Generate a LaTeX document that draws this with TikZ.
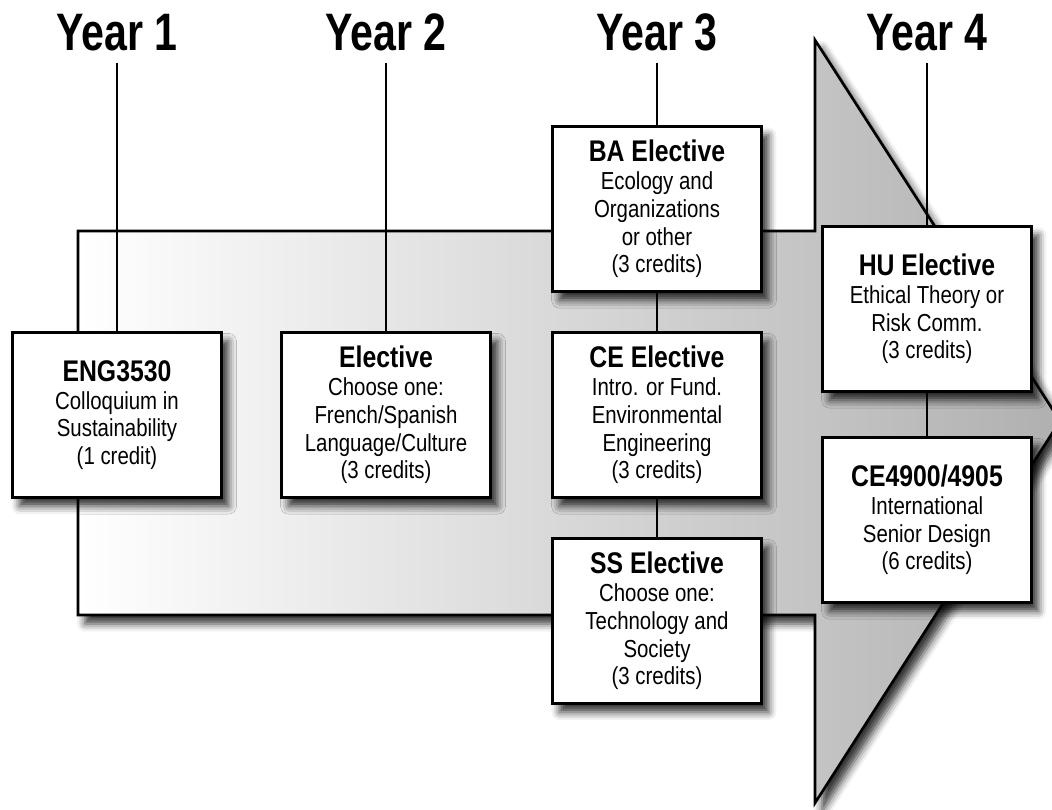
\documentclass[tikz,border=0pt]{standalone}
\usepackage{fontspec}
\setmainfont{Liberation Sans}
\newfontfamily\boxfont[FakeStretch=0.83]{Liberation Sans}
\newfontfamily\yearfont[FakeStretch=0.78]{Liberation Sans}
\usetikzlibrary{shadows.blur,backgrounds}
\tikzset
{
    coursebox/.style = {rectangle, draw=black, line width=1.5pt, fill=white, align=center, minimum width=4.18cm, minimum height=3.3cm, inner sep=0pt, font=\boxfont\fontsize{14}{15.8}\selectfont, blur shadow={shadow xshift=4pt, shadow yshift=-5pt, shadow blur radius=4.5pt, shadow opacity=80}},
    yearlabel/.style = {anchor=base, inner sep=0.24cm, font=\yearfont\fontsize{30}{30}\selectfont\bfseries},
    yearline/.style = {line width=1.3pt},
    bigarrow/.style = {draw=black, line width=1.5pt, left color=white, right color=gray!62, blur shadow={shadow xshift=4pt, shadow yshift=-5pt, shadow blur radius=4.5pt, shadow opacity=80}}
}
\newcommand{\coursetitle}[1]{{\fontsize{17}{15.8}\selectfont\bfseries #1}}

\begin{document}
\begin{tikzpicture}[x=0.02cm, y=-0.02cm]
	\useasboundingbox (0,0) rectangle (1052,809);

	\node[yearlabel] (y1) at (117,50) {Year 1};
	\node[yearlabel] (y2) at (386,50) {Year 2};
	\node[yearlabel] (y3) at (657,50) {Year 3};
	\node[yearlabel] (y4) at (927,50) {Year 4};

	\node[coursebox] (eng) at (117,415) {\coursetitle{ENG3530}\\Colloquium in\\Sustainability\\(1 credit)};
	\node[coursebox] (elec) at (386,415) {\coursetitle{Elective}\\Choose one:\\French/Spanish\\Language/Culture\\(3 credits)};
	\node[coursebox] (ba) at (657,209) {\coursetitle{BA Elective}\\Ecology and\\Organizations\\or other\\(3 credits)};
	\node[coursebox] (ce) at (657,415) {\coursetitle{CE Elective}\\Intro. or Fund.\\Environmental\\Engineering\\(3 credits)};
	\node[coursebox] (ss) at (657,621) {\coursetitle{SS Elective}\\Choose one:\\Technology and\\Society\\(3 credits)};
	\node[coursebox] (hu) at (927,309) {\coursetitle{HU Elective}\\Ethical Theory or\\Risk Comm.\\(3 credits)};
	\node[coursebox] (sd) at (927,520) {\coursetitle{CE4900/4905}\\International\\Senior Design\\(6 credits)};

	\begin{pgfonlayer}{background}
		\path[bigarrow] (78,231) -- (815,231) -- (815,40) -- (1060,421) -- (815,803) -- (815,615) -- (78,615) -- cycle;
		\draw[yearline] (y1.south) -- (eng);
		\draw[yearline] (y2.south) -- (elec);
		\draw[yearline] (y3.south) -- (ba);
		\draw[yearline] (y4.south) -- (hu);
		\draw[yearline] (ba) -- (ce);
		\draw[yearline] (ce) -- (ss);
		\draw[yearline] (hu) -- (sd);
	\end{pgfonlayer}
\end{tikzpicture}
\end{document}
